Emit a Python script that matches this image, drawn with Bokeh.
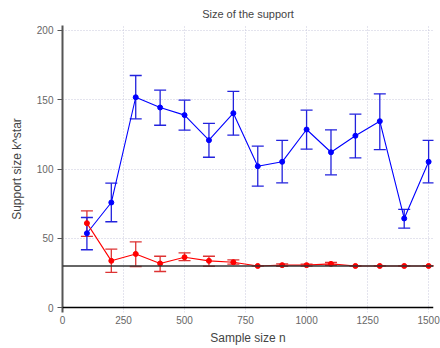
from bokeh.plotting import figure
from bokeh.models import ColumnDataSource, Whisker, TeeHead, Span, Range1d, FixedTicker
from bokeh.embed import file_html
from bokeh.resources import INLINE

# Data
n = [100, 200, 300, 400, 500, 600, 700, 800, 900, 1000, 1100, 1200, 1300, 1400, 1500]
blue_mean = [53.6, 75.8, 151.8, 144.4, 138.9, 120.8, 140.3, 102.0, 105.2, 128.5, 112.1, 124.0, 134.5, 64.3, 105.2]
blue_upper = [65.0, 89.8, 167.5, 156.9, 149.7, 133.0, 156.0, 116.5, 120.6, 142.5, 128.3, 139.6, 154.3, 70.8, 120.6]
blue_lower = [41.7, 61.9, 136.2, 131.6, 128.0, 108.5, 124.4, 87.6, 90.0, 114.3, 95.8, 108.0, 114.0, 57.3, 90.0]
red_mean = [60.9, 33.7, 38.7, 31.8, 36.3, 33.7, 32.7, 30.0, 30.6, 30.6, 31.5, 30.0, 30.0, 30.0, 30.0]
red_upper = [69.8, 42.1, 47.4, 37.0, 39.5, 37.0, 34.4, 30.0, 31.5, 31.3, 32.5, 30.0, 30.0, 30.0, 30.0]
red_lower = [51.3, 25.3, 29.6, 26.0, 33.9, 29.8, 31.3, 30.0, 29.7, 29.9, 30.5, 30.0, 30.0, 30.0, 30.0]
true_k = 30
x_ticks = [0, 250, 500, 750, 1000, 1250, 1500]
y_ticks = [0, 50, 100, 150, 200]

p = figure(width=440, height=348, output_backend="svg", toolbar_location=None,
           x_range=Range1d(0, 1520), y_range=Range1d(-3.6, 203.6),
           title="Size of the support",
           min_border_left=62, min_border_right=7, min_border_top=0, min_border_bottom=36)
p.outline_line_color = None
p.background_fill_color = "white"

p.title.align = "center"
p.title.text_font = "Liberation Sans"
p.title.text_font_size = "11px"
p.title.text_font_style = "normal"
p.title.text_color = "#444444"
p.title.standoff = 11

for ax in (p.xaxis, p.yaxis):
    ax.axis_label_text_font = "Liberation Sans"
    ax.axis_label_text_font_size = "12px"
    ax.axis_label_text_font_style = "normal"
    ax.axis_label_text_color = "#444444"
    ax.major_label_text_font = "Liberation Sans"
    ax.major_label_text_font_size = "10px"
    ax.major_label_text_color = "#666666"
    ax.minor_tick_line_color = None

p.xaxis.axis_label = "Sample size n"
p.yaxis.axis_label = "Support size k^star"
p.xaxis.ticker = FixedTicker(ticks=x_ticks)
p.yaxis.ticker = FixedTicker(ticks=y_ticks)
p.xaxis.axis_line_color = None
p.xaxis.major_tick_line_color = None
p.xaxis.major_tick_out = 0
p.xaxis.major_tick_in = 0
p.xaxis.major_label_standoff = 3
p.xaxis.axis_label_standoff = 4
p.yaxis.axis_line_color = "#555555"
p.yaxis.axis_line_width = 2
p.yaxis.major_tick_line_color = "#555555"
p.yaxis.major_tick_out = 5
p.yaxis.major_tick_in = 0
p.yaxis.major_label_standoff = 4
p.yaxis.axis_label_standoff = 10

p.xgrid.grid_line_color = "#c8c8dc"
p.ygrid.grid_line_color = "#c8c8dc"
p.xgrid.grid_line_dash = "1 2"
p.ygrid.grid_line_dash = "1 2"

p.add_layout(Span(location=0, dimension="width", line_color="black", line_width=1.5))
p.add_layout(Span(location=true_k, dimension="width", line_color="#333333", line_width=1.5))

blue = ColumnDataSource(dict(x=n, y=blue_mean, upper=blue_upper, lower=blue_lower))
red = ColumnDataSource(dict(x=n, y=red_mean, upper=red_upper, lower=red_lower))

for src, col, ecol in ((red, "#ff0000", "#dd3333"), (blue, "#0000ff", "#2222dd")):
    w = Whisker(source=src, base="x", upper="upper", lower="lower", line_color=ecol, line_width=1.3,
                upper_head=TeeHead(size=12, line_color=ecol, line_width=1.3),
                lower_head=TeeHead(size=12, line_color=ecol, line_width=1.3))
    p.add_layout(w)

p.line("x", "y", source=blue, line_color="#0000ff", line_width=1.1)
p.scatter("x", "y", source=blue, size=5, fill_color="#0000ff", line_color="#0000ff")
p.line("x", "y", source=red, line_color="#ff0000", line_width=1.1)
p.scatter("x", "y", source=red, size=5, fill_color="#ff0000", line_color="#ff0000")

open("out.html", "w").write(file_html(p, INLINE))
